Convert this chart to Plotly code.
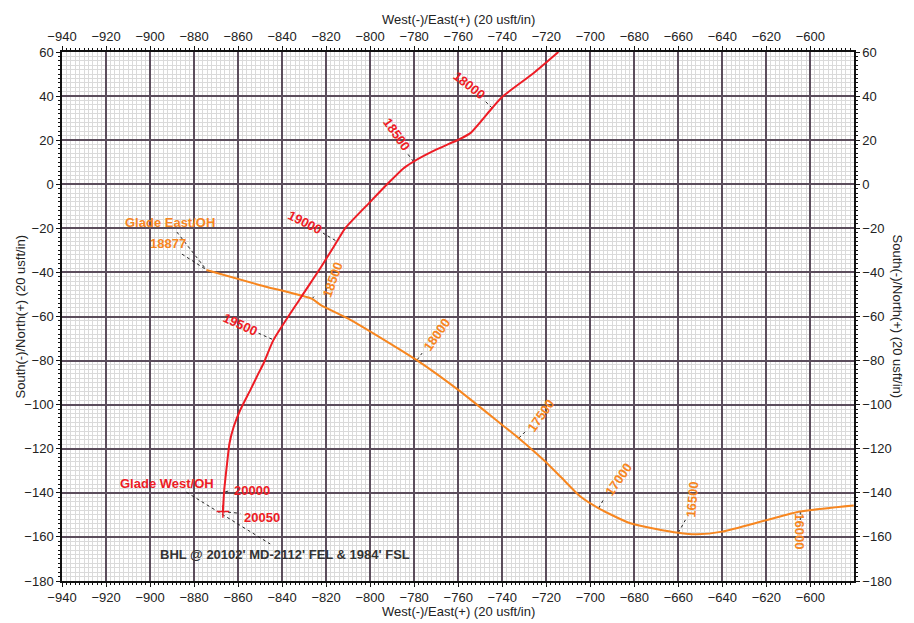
import plotly.graph_objects as go

# ---------------- data ----------------
# Glade West/OH (red) plan view, from tie-in down to BHL
west_x = [-714.5, -725.7, -739.6, -744.6, -754.5, -760.0, -770.3, -780.3, -784.8, -792.3,
          -800.0, -811.3, -815.1, -822.6, -831.7, -843.9, -848.4, -850.7, -854.4,
          -859.0, -862.0, -863.9, -865.0, -866.3, -866.9]
west_y = [60.0, 50.5, 40.0, 34.6, 23.2, 20.2, 15.6, 10.3, 7.3, 0.0,
          -8.0, -19.9, -26.0, -38.0, -51.7, -70.6, -81.2, -85.7, -93.3,
          -102.4, -110.0, -117.5, -126.6, -138.7, -148.5]

# Glade East/OH (orange)
east_x = [-874.4, -850.0, -826.4, -822.6, -809.0, -786.3, -779.0, -760.0, -740.0, -732.5,
          -721.2, -713.6, -704.5, -696.2, -681.8, -660.0, -651.5, -640.1, -619.7, -604.6, -580.3]
east_y = [-38.9, -45.8, -52.0, -54.7, -61.5, -75.1, -79.7, -93.3, -109.2, -115.2,
          -125.1, -132.6, -141.7, -147.0, -153.8, -158.1, -158.8, -157.6, -152.3, -148.5, -145.8]

# MD station labels: text, station point, label point, angle
west_md = ["18000", "18500", "19000", "19500", "20000", "20050"]
west_md_px = [-744.6, -780.3, -815.8, -844.6, -865.8, -867.3]
west_md_py = [34.6, 10.3, -25.5, -70.3, -139.5, -148.5]
west_lead_x = [-748.1, -783.3, -821.4, -850.7, -863.5, -859.0]
west_lead_y = [38.0, 14.2, -22.2, -67.6, -139.0, -149.3]
west_lab_x = [-754.9, -787.8, -829.5, -859.0, -853.6, -849.3]
west_lab_y = [44.8, 22.8, -17.2, -63.8, -138.9, -151.0]
west_lab_ang = [38, 55, 27, 25, 0, 0]

east_md = ["18500", "18000", "17500", "17000", "16500", "16000"]
east_md_px = [-826.4, -778.7, -732.5, -696.2, -660.0, -604.6]
east_md_py = [-52.0, -79.7, -115.2, -147.0, -158.1, -148.5]
east_lead_x = [-825.4, -776.4, -729.5, -693.9, -656.8, -604.6]
east_lead_y = [-50.8, -76.6, -112.2, -142.9, -152.3, -152.3]
east_lab_x = [-816.9, -769.6, -722.4, -687.1, -653.5, -605.0]
east_lab_y = [-43.4, -68.3, -105.0, -134.1, -143.2, -157.6]
east_lab_ang = [-70, -55, -55, -55, -85, 90]

# well names / BHL note
west_name = "Glade West/OH"
west_name_xy = (-892.2, -135.6)
east_name = "Glade East/OH"
east_name_xy = (-890.8, -17.2)
east_start_md = "18877"
east_start_xy = (-891.8, -26.7)
east_start_lead_x = [-887.8, -874.4, None, -885.5, -874.4]
east_start_lead_y = [-21.7, -38.8, None, -31.7, -38.8]
bhl_text = "BHL @ 20102' MD-2112' FEL & 1984' FSL"
bhl_xy = (-896.3, -168.2)
bhl_lead_x = [-883.5, -845.4]
bhl_lead_y = [-139.7, -163.2]

x_range = [-940, -580.2]
y_range = [-180, 60]
x_title = "West(-)/East(+) (20 usft/in)"
y_title = "South(-)/North(+) (20 usft/in)"

RED = "#EE1C25"
ORANGE = "#F7861F"
GRIDMAJ = "#5B4D5C"
GRIDMIN = "#DADADA"
FONT = "Liberation Sans"

fig = go.Figure()

# leader lines (dotted)
lx, ly = [], []
for a, b, c, d in zip(west_md_px, west_md_py, west_lead_x, west_lead_y):
    lx += [a, c, None]
    ly += [b, d, None]
for a, b, c, d in zip(east_md_px, east_md_py, east_lead_x, east_lead_y):
    lx += [a, c, None]
    ly += [b, d, None]
lx += east_start_lead_x + [None] + bhl_lead_x
ly += east_start_lead_y + [None] + bhl_lead_y
fig.add_trace(go.Scatter(x=lx, y=ly, mode="lines",
                         line=dict(color="#222222", width=1, dash="dot"),
                         hoverinfo="skip", showlegend=False))

fig.add_trace(go.Scatter(x=east_x, y=east_y, mode="lines",
                         line=dict(color=ORANGE, width=2, shape="spline", smoothing=0.6),
                         showlegend=False))
fig.add_trace(go.Scatter(x=west_x, y=west_y, mode="lines",
                         line=dict(color=RED, width=2, shape="spline", smoothing=0.6),
                         showlegend=False))
fig.add_trace(go.Scatter(x=[west_x[-1]], y=[west_y[-1]], mode="markers",
                         marker=dict(symbol="cross-thin", size=9,
                                     line=dict(color=RED, width=1.5)),
                         showlegend=False))
# invisible trace on the mirror axes
fig.add_trace(go.Scatter(x=x_range, y=y_range, xaxis="x2", yaxis="y2", mode="markers",
                         marker=dict(opacity=0), hoverinfo="skip", showlegend=False))

ann = []
for t, x, y, a in zip(west_md, west_lab_x, west_lab_y, west_lab_ang):
    ann.append(dict(x=x, y=y, text=t, textangle=a, showarrow=False,
                    font=dict(family=FONT, size=13, color=RED, weight="bold")))
for t, x, y, a in zip(east_md, east_lab_x, east_lab_y, east_lab_ang):
    ann.append(dict(x=x, y=y, text=t, textangle=a, showarrow=False,
                    font=dict(family=FONT, size=13, color=ORANGE, weight="bold")))
ann.append(dict(x=west_name_xy[0], y=west_name_xy[1], text=west_name, showarrow=False,
                font=dict(family=FONT, size=13, color=RED, weight="bold")))
ann.append(dict(x=east_name_xy[0], y=east_name_xy[1], text=east_name, showarrow=False,
                font=dict(family=FONT, size=13, color=ORANGE, weight="bold")))
ann.append(dict(x=east_start_xy[0], y=east_start_xy[1], text=east_start_md, showarrow=False,
                font=dict(family=FONT, size=13, color=ORANGE, weight="bold")))
ann.append(dict(x=bhl_xy[0], y=bhl_xy[1], text=bhl_text, showarrow=False, xanchor="left",
                font=dict(family=FONT, size=13, color="#333333", weight="bold")))
# axis titles
tfont = dict(family=FONT, size=13, color="#222222")
ann.append(dict(xref="paper", yref="paper", x=0.5, y=0, yshift=-30, text=x_title,
                xanchor="center", yanchor="middle", showarrow=False, font=tfont))
ann.append(dict(xref="paper", yref="paper", x=0.5, y=1, yshift=33, text=x_title,
                xanchor="center", yanchor="middle", showarrow=False, font=tfont))
ann.append(dict(xref="paper", yref="paper", x=0, y=0.5, xshift=-42, text=y_title,
                xanchor="center", yanchor="middle", textangle=-90, showarrow=False, font=tfont))
ann.append(dict(xref="paper", yref="paper", x=1, y=0.5, xshift=43, text=y_title,
                xanchor="center", yanchor="middle", textangle=90, showarrow=False, font=tfont))

tickfont = dict(family=FONT, size=13, color="#222222")
common = dict(showline=True, linecolor="#111111", linewidth=1.5, mirror=False,
              ticks="outside", ticklen=4, tickwidth=1.2, tickcolor="#111111",
              tickfont=tickfont, zeroline=False, dtick=20, automargin=False)
minor = dict(dtick=2, ticks="outside", ticklen=2, tickwidth=1, tickcolor="#111111",
             showgrid=True, gridcolor=GRIDMIN, gridwidth=1)

# page body has an 8px margin: plot area at 62..854 x 52..581 in the window
fig.update_layout(
    width=898, height=615,
    margin=dict(l=54, r=52, t=44, b=42),
    paper_bgcolor="white", plot_bgcolor="white",
    showlegend=False,
    xaxis=dict(range=x_range, tick0=-940, showgrid=True, gridcolor=GRIDMAJ, gridwidth=1.5,
               minor=minor, **common),
    yaxis=dict(range=y_range, tick0=-180, showgrid=True, gridcolor=GRIDMAJ, gridwidth=1.5,
               minor=minor, **common),
    xaxis2=dict(range=x_range, tick0=-940, overlaying="x", side="top", anchor="y",
                showgrid=False, minor=dict(dtick=2, ticks="outside", ticklen=2,
                                           tickcolor="#111111", showgrid=False), **common),
    yaxis2=dict(range=y_range, tick0=-180, overlaying="y", side="right", anchor="x",
                showgrid=False, minor=dict(dtick=2, ticks="outside", ticklen=2,
                                           tickcolor="#111111", showgrid=False), **common),
    annotations=ann,
)

fig.write_html("out.html")
